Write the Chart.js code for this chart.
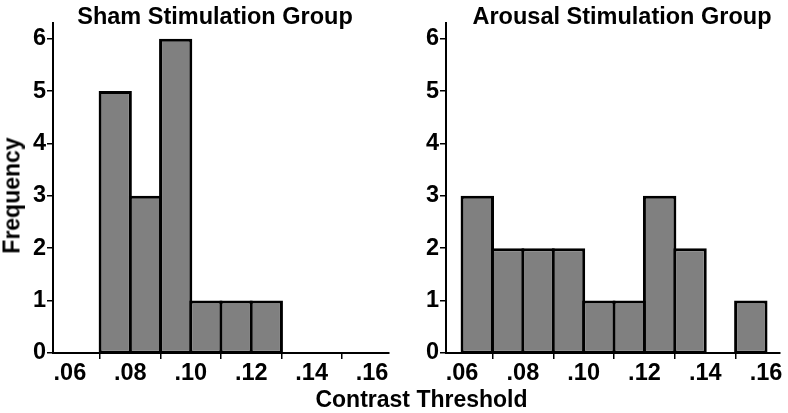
<!DOCTYPE html>
<html>
<head>
<meta charset="utf-8">
<script src="https://cdn.jsdelivr.net/npm/chart.js@4.4.1/dist/chart.umd.min.js"></script>
<style>
  html, body { margin: 0; padding: 0; background: #fff; overflow: hidden; }
  #wrap { position: relative; width: 788px; height: 413px; }
  canvas { position: absolute; top: 0; }
  .lbl { position: absolute; font-family: 'Liberation Sans', Arial, sans-serif; font-weight: bold;
         color: #000; text-align: center; white-space: nowrap; line-height: 1; }
</style>
</head>
<body>
<div id="wrap">
  <canvas id="c1" width="400" height="413" style="left:0px"></canvas>
  <canvas id="c2" width="388" height="413" style="left:400px"></canvas>
  <div class="lbl" style="left:15px; top:5px; width:400px; font-size:23.5px;">Sham Stimulation Group</div>
  <div class="lbl" style="left:422px; top:5px; width:400px; font-size:23.5px;">Arousal Stimulation Group</div>
  <div class="lbl" style="left:-88px; top:183.5px; width:200px; height:23px; font-size:23px; transform:rotate(-90deg);">Frequency</div>
  <div class="lbl" style="left:221.5px; top:387.5px; width:400px; font-size:23px;">Contrast Threshold</div>
</div>
<script>
// Data
const binStarts     = [0.06, 0.07, 0.08, 0.09, 0.10, 0.11, 0.12, 0.13, 0.14, 0.15];
const shamCounts    = [0, 5, 3, 6, 1, 1, 1, 0, 0, 0];
const arousalCounts = [3, 2, 2, 2, 1, 1, 3, 2, 0, 1];
const binWidth = 0.01;
const xTicks = [0.06, 0.08, 0.10, 0.12, 0.14, 0.16];
const yTicks = [0, 1, 2, 3, 4, 5, 6];

const FONT = "'Liberation Sans', Arial, sans-serif";

function makePoints(counts) {
  return binStarts.map((s, i) => ({ x: s + binWidth / 2, y: counts[i] }));
}

function makeChart(id, counts, yWidth, padRight, xMin, xMax) {
  return new Chart(document.getElementById(id), {
    type: 'bar',
    data: {
      datasets: [{
        data: makePoints(counts),
        backgroundColor: '#808080',
        borderColor: '#000000',
        borderWidth: { top: 3, left: 3, right: 3, bottom: 1.5 },
        borderSkipped: false,
        barPercentage: 1.1,
        categoryPercentage: 1.0
      }]
    },
    options: {
      responsive: false,
      animation: false,
      devicePixelRatio: 1,
      layout: { padding: { top: 23, right: padRight, left: 0, bottom: 0 } },
      plugins: { legend: { display: false }, tooltip: { enabled: false }, title: { display: false } },
      scales: {
        x: {
          type: 'linear',
          offset: false,
          min: xMin,
          max: xMax,
          afterBuildTicks: (scale) => { scale.ticks = xTicks.map(v => ({ value: v })); },
          afterFit: (scale) => { scale.height = 60; },
          grid: { drawOnChartArea: false, drawTicks: true, tickLength: 6, color: '#000', lineWidth: 1.5 },
          border: { display: true, color: '#000', width: 2 },
          ticks: {
            autoSkip: false,
            maxRotation: 0,
            padding: 0,
            color: '#000',
            font: { family: FONT, size: 23.5, weight: 'bold' },
            callback: (v) => Number(v).toFixed(2).replace(/^0/, '')
          }
        },
        y: {
          min: 0,
          max: 6.3,
          afterBuildTicks: (scale) => { scale.ticks = yTicks.map(v => ({ value: v })); },
          afterFit: (scale) => { scale.width = yWidth; },
          grid: { drawOnChartArea: false, drawTicks: true, tickLength: 6, color: '#000', lineWidth: 1.5 },
          border: { display: true, color: '#000', width: 2 },
          ticks: {
            padding: 1,
            color: '#000',
            font: { family: FONT, size: 23.5, weight: 'bold' },
            callback: (v) => String(v)
          }
        }
      }
    }
  });
}

makeChart('c1', shamCounts, 53, 11, 0.0544, 0.1656);
makeChart('c2', arousalCounts, 46, 8, 0.0547, 0.1646);
</script>
</body>
</html>
